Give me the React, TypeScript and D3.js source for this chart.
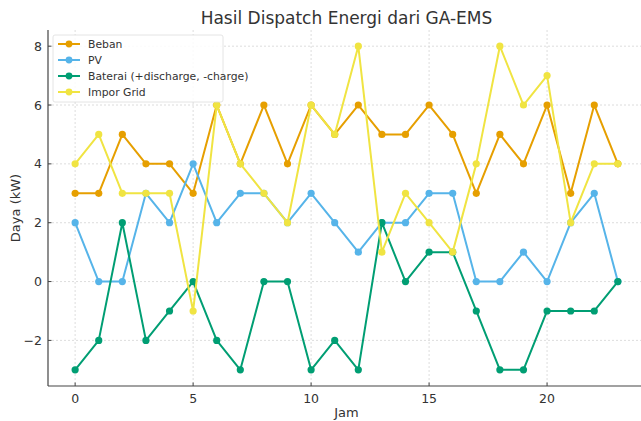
import React from "react";
import * as d3 from "d3";

const hours = d3.range(0, 24);
const beban = [3, 3, 5, 4, 4, 3, 6, 4, 6, 4, 6, 5, 6, 5, 5, 6, 5, 3, 5, 4, 6, 3, 6, 4];
const pv = [2, 0, 0, 3, 2, 4, 2, 3, 3, 2, 3, 2, 1, 2, 2, 3, 3, 0, 0, 1, 0, 2, 3, 0];
const baterai = [-3, -2, 2, -2, -1, 0, -2, -3, 0, 0, -3, -2, -3, 2, 0, 1, 1, -1, -3, -3, -1, -1, -1, 0];
const grid = [4, 5, 3, 3, 3, -1, 6, 4, 3, 2, 6, 5, 8, 1, 3, 2, 1, 4, 8, 6, 7, 2, 4, 4];
const xTicks = [0, 5, 10, 15, 20];
const yTicks = [-2, 0, 2, 4, 6, 8];

const series = [
  { name: "Beban", values: beban, color: "#E69F00" },
  { name: "PV", values: pv, color: "#56B4E9" },
  { name: "Baterai (+discharge, -charge)", values: baterai, color: "#009E73" },
  { name: "Impor Grid", values: grid, color: "#F0E442" },
];

const W = 641, H = 421;
const left = 48, right = 645, top = 30, bottom = 386;
const font = "DejaVu Sans, sans-serif";

export default function App() {
  const x = d3.scaleLinear().domain([-1.15, 24.15]).range([left, right]);
  const y = d3.scaleLinear().domain([-3.55, 8.55]).range([bottom, top]);
  const line = d3.line<number>().x((_, i) => x(hours[i])).y((d) => y(d));
  return (
    <svg width={W} height={H} style={{ position: "absolute", left: 0, top: 0 }} fontFamily={font}>
      <rect width={W} height={H} fill="#fff" />
      {xTicks.map((t) => (
        <line key={"gx" + t} x1={x(t)} x2={x(t)} y1={top} y2={bottom} stroke="#d4d4d4" strokeWidth={0.8} strokeDasharray="2,2" />
      ))}
      {yTicks.map((t) => (
        <line key={"gy" + t} x1={left} x2={W} y1={y(t)} y2={y(t)} stroke="#d4d4d4" strokeWidth={0.8} strokeDasharray="2,2" />
      ))}
      {series.map((s) => (
        <g key={s.name}>
          <path d={line(s.values) || ""} fill="none" stroke={s.color} strokeWidth={2} strokeLinejoin="round" />
          {s.values.map((v, i) => (
            <circle key={i} cx={x(hours[i])} cy={y(v)} r={3.6} fill={s.color} />
          ))}
        </g>
      ))}
      <line x1={left} x2={left} y1={top} y2={bottom} stroke="#444" strokeWidth={1.2} />
      <line x1={left} x2={W} y1={bottom} y2={bottom} stroke="#444" strokeWidth={1.2} />
      {xTicks.map((t) => (
        <g key={"tx" + t}>
          <line x1={x(t)} x2={x(t)} y1={bottom} y2={bottom - 3.5} stroke="#444" />
          <text x={x(t)} y={bottom + 17} textAnchor="middle" fontSize={12.5} fill="#333">{t}</text>
        </g>
      ))}
      {yTicks.map((t) => (
        <g key={"ty" + t}>
          <line x1={left} x2={left + 3.5} y1={y(t)} y2={y(t)} stroke="#444" />
          <text x={left - 6} y={y(t) + 4.5} textAnchor="end" fontSize={12.5} fill="#333">{t < 0 ? "\u2212" + Math.abs(t) : t}</text>
        </g>
      ))}
      <text x={(left + right) / 2} y={417} textAnchor="middle" fontSize={13} fill="#333">Jam</text>
      <text transform={`translate(20,${(top + bottom) / 2}) rotate(-90)`} textAnchor="middle" fontSize={13} fill="#333">Daya (kW)</text>
      <text x={(left + right) / 2} y={24} textAnchor="middle" fontSize={17} fill="#333">Hasil Dispatch Energi dari GA-EMS</text>
      <g>
        <rect x={53} y={35} width={170} height={67} fill="#fff" fillOpacity={0.85} stroke="#ddd" strokeWidth={0.8} rx={2} />
        {series.map((s, i) => {
          const yy = 44 + i * 16;
          return (
            <g key={"lg" + s.name}>
              <line x1={58} x2={80} y1={yy} y2={yy} stroke={s.color} strokeWidth={2} />
              <circle cx={69} cy={yy} r={3.4} fill={s.color} />
              <text x={88} y={yy + 4} fontSize={10.8} fill="#333">{s.name}</text>
            </g>
          );
        })}
      </g>
    </svg>
  );
}
